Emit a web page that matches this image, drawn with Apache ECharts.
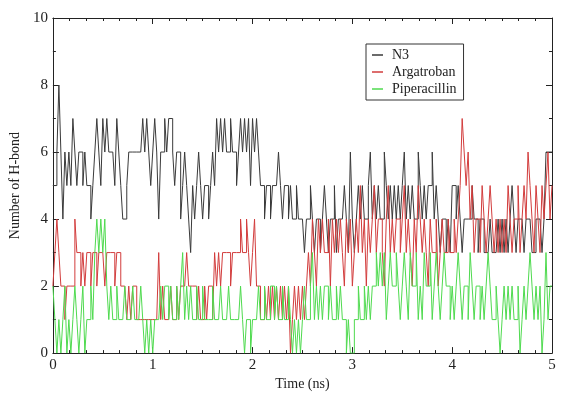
<!DOCTYPE html>
<html>
<head>
<meta charset="utf-8">
<script src="https://cdn.jsdelivr.net/npm/echarts@6/dist/echarts.min.js"></script>
<style>
  html, body { margin: 0; padding: 0; background: #fff; }
  #chart { width: 566px; height: 396px; }
</style>
</head>
<body>
<div id="chart"></div>
<script>
// sampling step of the trajectory (ns)
const timeStep = 0.02;
const seriesNames = ["N3", "Argatroban", "Piperacillin"];
const xTicks = [0, 1, 2, 3, 4, 5];
const yTicks = [0, 2, 4, 6, 8, 10];

const n3 = [
  5,5,6,8,6,4,6,5,6,5,7,6,5,6,6,5,6,5,5,4,5,6,7,6,5,
  7,6,7,6,6,6,5,7,6,5,4,4,5,6,6,6,6,6,6,6,7,6,7,6,5,
  6,7,6,4,6,6,7,6,7,7,6,5,6,6,4,5,6,5,4,3,5,4,5,6,5,
  4,5,5,4,5,6,5,7,6,7,6,7,6,6,7,6,6,5,6,7,6,7,6,7,5,
  7,6,7,6,5,5,4,5,5,4,5,5,5,6,5,4,5,5,4,5,4,4,5,4,4,
  4,3,4,4,5,4,3,4,4,3,4,5,4,3,4,4,5,3,4,4,4,5,4,3,6,
  4,3,4,5,4,5,4,4,5,6,4,5,4,5,4,4,6,5,4,5,4,5,4,5,4,
  5,6,4,5,4,5,4,4,6,5,4,5,4,5,5,6,4,5,4,3,4,4,3,4,3,
  5,5,4,5,4,3,4,4,4,4,5,4,4,3,4,4,3,3,3,4,3,3,3,4,3,
  4,3,4,3,4,5,4,3,4,4,4,3,4,4,4,3,3,4,4,4,3,4,6,6,6,
  6
];

const argatroban = [
  2,3,4,3,2,2,1,2,2,2,2,4,3,3,2,3,2,3,3,2,3,3,2,3,3,
  3,2,3,3,3,3,2,3,3,2,2,2,1,2,1,2,2,1,1,1,1,1,1,1,1,
  1,1,1,3,1,2,1,1,1,2,1,1,2,1,2,2,2,3,2,2,2,2,1,2,1,
  1,2,1,2,2,1,3,2,3,2,3,3,3,3,2,3,3,3,3,4,3,3,4,3,2,
  3,4,2,2,1,1,2,1,2,1,2,1,2,1,2,1,2,1,2,0,1,2,1,2,1,
  2,1,2,3,2,4,3,2,4,3,4,3,3,4,2,4,3,4,3,4,3,2,4,3,4,
  2,3,4,3,5,3,4,2,4,3,4,5,3,4,4,3,2,4,5,3,4,3,4,4,3,
  4,5,3,4,3,2,4,3,5,4,3,4,3,2,4,3,3,4,2,3,4,3,3,4,3,
  3,4,3,4,5,7,6,5,6,4,5,3,4,4,3,5,4,3,4,5,4,3,4,3,4,
  3,4,3,5,4,3,4,4,5,3,4,5,4,6,5,4,3,5,4,3,5,4,5,6,4,
  5
];

const piperacillin = [
  2,1,0,1,0,1,2,0,1,0,1,2,1,0,1,2,0,1,1,2,1,3,4,3,4,
  3,4,2,1,2,1,1,2,1,1,1,2,1,1,1,2,1,1,1,2,1,0,1,0,1,
  0,1,1,1,2,1,2,2,1,2,1,1,2,1,2,3,1,2,1,2,1,1,2,1,1,
  2,1,1,1,1,2,1,1,1,2,1,1,1,2,1,1,1,1,1,2,1,0,1,1,0,
  1,1,1,2,1,1,2,1,1,2,2,1,2,1,1,2,1,1,2,1,0,1,0,1,0,
  1,2,1,1,2,3,1,2,1,2,1,2,2,1,2,1,1,2,1,2,1,1,0,1,0,
  0,1,1,2,1,1,2,1,2,1,2,2,3,2,3,2,3,1,2,3,2,2,3,2,1,
  2,3,2,1,3,2,2,3,1,2,1,3,2,2,3,1,2,3,2,1,2,3,2,2,1,
  2,1,2,3,2,1,2,2,1,3,2,1,2,2,1,2,1,2,3,2,1,1,2,1,0,
  1,2,1,2,1,2,1,1,2,0,1,2,1,2,3,2,1,2,1,2,0,1,3,1,2,
  2
];

const colors = ["#3a3a3a", "#d23c3c", "#4fda4f"];

const toPairs = (vals) => vals.map((v, i) => [+(i * timeStep).toFixed(2), v]);

const serif = "'Liberation Serif', 'DejaVu Serif', serif";

const myChart = echarts.init(document.getElementById("chart"));

const baseX = {
  type: "value",
  min: xTicks[0],
  max: xTicks[xTicks.length - 1],
  interval: 1,
  splitLine: { show: false },
  axisLine: { show: true, onZero: false, lineStyle: { color: "#222", width: 1 } },
  axisTick: { show: true, inside: true, length: 6, lineStyle: { color: "#222" } },
  minorTick: { show: true, splitNumber: 6, length: 3, lineStyle: { color: "#222" } },
};
const baseY = {
  type: "value",
  min: yTicks[0],
  max: yTicks[yTicks.length - 1],
  interval: 2,
  splitLine: { show: false },
  axisLine: { show: true, onZero: false, lineStyle: { color: "#222", width: 1 } },
  axisTick: { show: true, inside: true, length: 6, lineStyle: { color: "#222" } },
  minorTick: { show: true, splitNumber: 2, length: 3, lineStyle: { color: "#222" } },
};

myChart.setOption({
  animation: false,
  backgroundColor: "#fff",
  grid: { left: 47, right: 14, top: 18, bottom: 28 },
  legend: {
    orient: "vertical",
    left: 366,
    top: 44,
    data: seriesNames.map((n) => ({ name: n, icon: "rect" })),
    borderColor: "#333",
    borderWidth: 1,
    padding: [4, 7, 4, 6],
    itemGap: 3,
    itemWidth: 11,
    itemHeight: 1.5,
    textStyle: { fontFamily: serif, fontSize: 14, color: "#222", padding: [0, 0, 0, 4] },
  },
  xAxis: [
    Object.assign({}, baseX, {
      position: "bottom",
      name: "Time (ns)",
      nameLocation: "middle",
      nameGap: 17,
      nameTextStyle: { fontFamily: serif, fontSize: 14, color: "#222" },
      axisLabel: { fontFamily: serif, fontSize: 15, color: "#222", margin: 4 },
    }),
    Object.assign({}, baseX, { position: "top", axisLabel: { show: false } }),
  ],
  yAxis: [
    Object.assign({}, baseY, {
      position: "left",
      name: "Number of H-bond",
      nameLocation: "middle",
      nameGap: 23,
      nameTextStyle: { fontFamily: serif, fontSize: 14, color: "#222" },
      axisLabel: { fontFamily: serif, fontSize: 15, color: "#222", margin: 5 },
    }),
    Object.assign({}, baseY, { position: "right", axisLabel: { show: false } }),
  ],
  series: [
    { name: seriesNames[0], data: toPairs(n3) },
    { name: seriesNames[1], data: toPairs(argatroban) },
    { name: seriesNames[2], data: toPairs(piperacillin) },
  ].map((s, i) => ({
    name: s.name,
    type: "line",
    step: "end",
    symbol: "none",
    xAxisIndex: 0,
    yAxisIndex: 0,
    data: s.data,
    color: colors[i],
    lineStyle: { color: colors[i], width: 1 },
  })),
});
</script>
</body>
</html>
